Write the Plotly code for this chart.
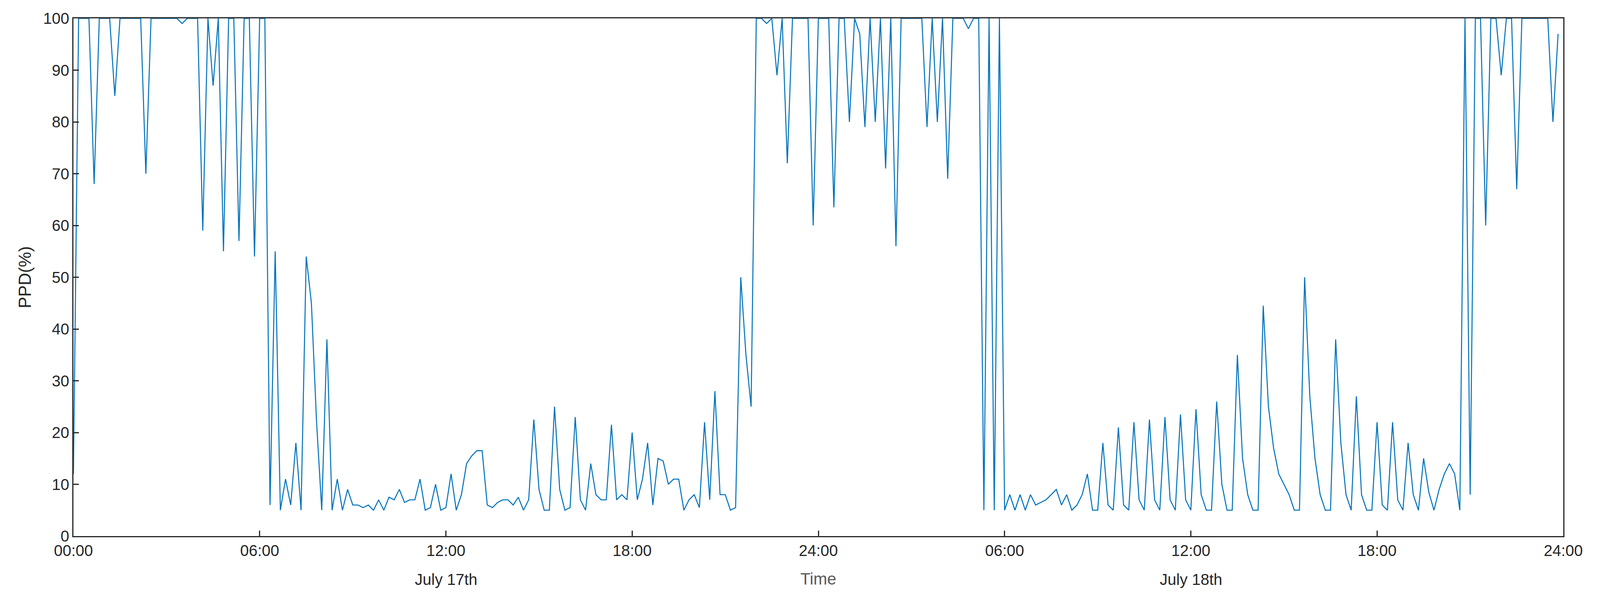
import plotly.graph_objects as go
import numpy as np

# PPD values (%) every 10 minutes, July 17th 00:00 to July 18th 23:50
day1 = [
    12, 100, 100, 100, 68, 100,
    100, 100, 85, 100, 100, 100,
    100, 100, 70, 100, 100, 100,
    100, 100, 100, 99, 100, 100,
    100, 59, 100, 87, 100, 55,
    100, 100, 57, 100, 100, 54,
    100, 100, 6, 55, 5, 11,
    6, 18, 5, 54, 45, 22,
    5, 38, 5, 11, 5, 9,
    6, 6, 5.5, 6, 5, 7,
    5, 7.5, 7, 9, 6.5, 7,
    7, 11, 5, 5.5, 10, 5,
    5.5, 12, 5, 8, 14, 15.5,
    16.5, 16.5, 6, 5.5, 6.5, 7,
    7, 6, 7.5, 5, 7, 22.5,
    9, 5, 5, 25, 9, 5,
    5.5, 23, 7, 5, 14, 8,
    7, 7, 21.5, 7, 8, 7,
    20, 7, 11, 18, 6, 15,
    14.5, 10, 11, 11, 5, 7,
    8, 5.5, 22, 7, 28, 8,
    8, 5, 5.5, 50, 35, 25,
    100, 100, 99, 100, 89, 100,
    72, 100, 100, 100, 100, 60,
]
day2 = [
    100, 100, 100, 63.5, 100, 100,
    80, 100, 97, 79, 100, 80,
    100, 71, 100, 56, 100, 100,
    100, 100, 100, 79, 100, 80,
    100, 69, 100, 100, 100, 98,
    100, 100, 5, 100, 5, 100,
    5, 8, 5, 8, 5, 8,
    6, 6.5, 7, 8, 9, 6,
    8, 5, 6, 8, 12, 5,
    5, 18, 6, 5, 21, 6,
    5, 22, 7, 5, 22.5, 7,
    5, 23, 7, 5, 23.5, 7,
    5, 24.5, 8, 5, 5, 26,
    10, 5, 5, 35, 15, 8,
    5, 5, 44.5, 25, 17, 12,
    10, 8, 5, 5, 50, 27,
    15, 8, 5, 5, 38, 18,
    8, 5, 27, 8, 5, 5,
    22, 6, 5, 22, 7, 5,
    18, 8, 5, 15, 8.5, 5,
    9, 12, 14, 12, 5, 100,
    8, 100, 100, 60, 100, 100,
    89, 100, 100, 67, 100, 100,
    100, 100, 100, 100, 80, 97,
]
ppd = day1 + day2
hours = np.arange(len(ppd)) / 6.0

tick_vals = [0, 6, 12, 18, 24, 30, 36, 42, 48]
tick_text = ["00:00", "06:00", "12:00", "18:00", "24:00", "06:00", "12:00", "18:00", "24:00"]
date_labels = [(12, "July 17th"), (36, "July 18th")]

fig = go.Figure(go.Scatter(x=hours, y=ppd, mode="lines",
                           line=dict(color="#0072BD", width=2.6)))

axis_common = dict(showline=True, linecolor="#262626", linewidth=2.5, mirror=True,
                   ticks="inside", ticklen=14, tickwidth=2.5, tickcolor="#262626",
                   showgrid=False, zeroline=False,
                   tickfont=dict(family="Liberation Sans, Arial", size=40, color="#262626"))

fig.update_layout(
    autosize=True, plot_bgcolor="white", paper_bgcolor="white",
    margin=dict(l=180, r=86, t=39, b=194), showlegend=False,
    xaxis=dict(range=[0, 48], tickvals=tick_vals, ticktext=tick_text, **axis_common),
    yaxis=dict(range=[0, 100], dtick=10,
               title=dict(text="PPD(%)", font=dict(family="Liberation Sans, Arial", size=44, color="#262626"), standoff=18),
               **axis_common),
)
for xv, txt in date_labels:
    fig.add_annotation(x=xv, y=0, xref="x", yref="paper", yshift=-135, text=txt, showarrow=False,
                       font=dict(family="Liberation Sans, Arial", size=40, color="#262626"))
fig.add_annotation(x=24, y=0, xref="x", yref="paper", yshift=-135, text="Time", showarrow=False,
                   font=dict(family="Liberation Sans, Arial", size=42, color="#595959"))

fig.write_html("out.html", default_width="100%", default_height="100%",
               config={"responsive": True})
